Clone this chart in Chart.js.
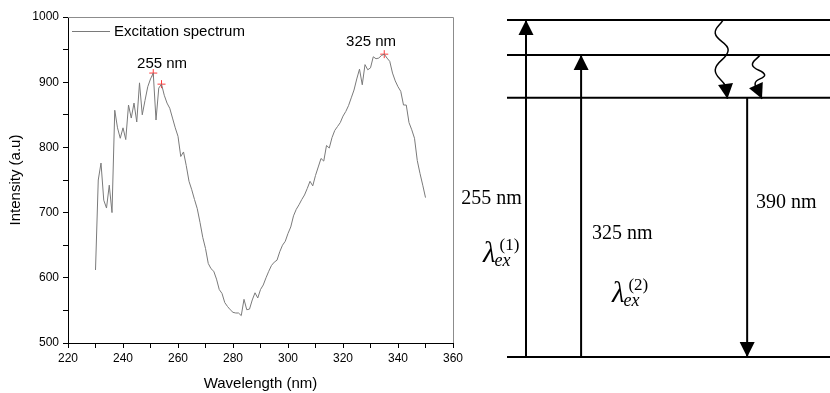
<!DOCTYPE html>
<html>
<head>
<meta charset="utf-8">
<script src="https://cdn.jsdelivr.net/npm/chart.js@4.4.1/dist/chart.umd.min.js"></script>
<style>
  body { margin: 0; background: #fff; }
  #wrap { position: relative; width: 830px; height: 393px; overflow: hidden; background: #fff; }
  #spectrumChart { position: absolute; left: 0; top: 0; }
  #levelChart { position: absolute; left: 450px; top: 0; }
</style>
</head>
<body>
<div id="wrap">
  <canvas id="spectrumChart" width="470" height="393"></canvas>
  <canvas id="levelChart" width="380" height="393"></canvas>
</div>
<script>
// excitation spectrum
const wavelength = [
  230, 231, 232, 233, 234, 235, 236, 237, 238, 239, 240, 241, 242, 243, 244, 245, 246, 247, 248, 249,
  250, 251, 252, 253, 254, 255, 256, 257, 258, 259, 260, 261, 262, 263, 264, 265, 266, 267, 268, 269,
  270, 271, 272, 273, 274, 275, 276, 277, 278, 279, 280, 281, 282, 283, 284, 285, 286, 287, 288, 289,
  290, 291, 292, 293, 294, 295, 296, 297, 298, 299, 300, 301, 302, 303, 304, 305, 306, 307, 308, 309,
  310, 311, 312, 313, 314, 315, 316, 317, 318, 319, 320, 321, 322, 323, 324, 325, 326, 327, 328, 329,
  330, 331, 332, 333, 334, 335, 336, 337, 338, 339, 340, 341, 342, 343, 344, 345, 346, 347, 348, 349,
  350
];
const intensity = [
  612, 750, 776, 719, 707, 742, 700, 857, 830, 814, 830, 812, 865, 845, 868, 839, 899, 850, 872, 893,
  905, 914, 842, 891, 897, 880, 868, 860, 845, 830, 817, 786, 793, 772, 748, 735, 720, 706, 685, 662,
  645, 622, 614, 610, 598, 582, 576, 562, 556, 551, 547, 546, 546, 542, 567, 551, 552, 566, 577, 569,
  582, 589, 600, 610, 619, 624, 627, 640, 650, 656, 668, 678, 695, 705, 712, 720, 727, 737, 748, 741,
  757, 770, 783, 779, 803, 799, 815, 826, 832, 838, 848, 855, 864, 876, 888, 905, 920, 896, 927, 919,
  922, 939, 936, 937, 941, 943, 937, 932, 914, 902, 893, 886, 865, 865, 838, 827, 814, 780, 760, 742,
  723
];

// peaks marked with red crosses
const peakX = [251, 254, 335];
const peakY = [914, 897, 943];
const peakText = ["255 nm", "325 nm"];
const peakTextX = [254.2, 330.2];
const peakTextY = [928, 962];

// energy level sketch, arbitrary units
const levels = [0, 7.69, 8.96, 10];
const levelStart = 15;
const levelEnd = 100;
const upArrowX = [20, 34.5];
const upArrowTop = [10, 8.96];
const downArrowX = 78.2;
const downArrowTop = 7.69;
const wavy1X = [71.9, 69.8, 73.2, 69.8, 72.6, 73.0];
const wavy1Y = [10, 9.60, 9.11, 8.52, 8.02, 7.66];
const wavy2X = [81.6, 79.6, 82.8, 80.3, 82.1];
const wavy2Y = [8.96, 8.66, 8.37, 8.12, 7.66];

const lineText = ["255 nm", "325 nm", "390 nm"];
const lineTextX = [18.9, 37.4, 80.5];
const lineTextY = [4.54, 3.50, 4.42];
const lineTextAlign = ["right", "left", "left"];
const lambdaSup = ["(1)", "(2)"];
const lambdaX = [8.7, 42.6];
const lambdaY = [2.82, 1.63];

const sans = "'Liberation Sans', Arial, sans-serif";
const serif = "'Liberation Serif', 'Times New Roman', serif";

// grey box on top and right of the plot
const frameLines = {
  id: "frameLines",
  afterDraw(chart) {
    const a = chart.chartArea;
    const c = chart.ctx;
    c.save();
    c.strokeStyle = "#8c8c8c";
    c.lineWidth = 1;
    c.beginPath();
    c.moveTo(a.left, a.top + 0.5);
    c.lineTo(a.right + 0.5, a.top + 0.5);
    c.lineTo(a.right + 0.5, a.bottom);
    c.stroke();
    c.restore();
  }
};

// legend sits inside the plot, top left
const insideLegend = {
  id: "insideLegend",
  afterDatasetsDraw(chart) {
    const a = chart.chartArea;
    const c = chart.ctx;
    const ds = chart.data.datasets[0];
    const ly = a.top + 14.5;
    c.save();
    c.strokeStyle = ds.borderColor;
    c.lineWidth = 1;
    c.beginPath();
    c.moveTo(a.left + 4, ly);
    c.lineTo(a.left + 42, ly);
    c.stroke();
    c.fillStyle = "#000";
    c.font = "15px " + sans;
    c.textBaseline = "middle";
    c.fillText(ds.label, a.left + 46, ly);
    c.restore();
  }
};

const peakLabels = {
  id: "peakLabels",
  afterDatasetsDraw(chart) {
    const { ctx, scales: { x, y } } = chart;
    ctx.save();
    ctx.font = "15px " + sans;
    ctx.fillStyle = "#000";
    ctx.textAlign = "center";
    ctx.textBaseline = "middle";
    peakText.forEach((t, i) => {
      ctx.fillText(t, x.getPixelForValue(peakTextX[i]), y.getPixelForValue(peakTextY[i]));
    });
    ctx.restore();
  }
};

new Chart(document.getElementById("spectrumChart"), {
  type: "line",
  data: {
    datasets: [
      {
        label: "Excitation spectrum",
        data: wavelength.map((w, i) => ({ x: w, y: intensity[i] })),
        borderColor: "#7a7a7a",
        backgroundColor: "#7a7a7a",
        borderWidth: 1,
        pointRadius: 0,
        tension: 0,
        fill: false
      },
      {
        label: "peaks",
        data: peakX.map((w, i) => ({ x: w, y: peakY[i] })),
        showLine: false,
        pointStyle: "cross",
        pointRadius: 4,
        borderColor: "#ff3b3b",
        borderWidth: 1
      }
    ]
  },
  options: {
    responsive: false,
    animation: false,
    layout: { padding: { top: 17, right: 17, left: 0, bottom: 0 } },
    plugins: {
      legend: { display: false },
      tooltip: { enabled: false }
    },
    scales: {
      x: {
        type: "linear",
        min: 220,
        max: 360,
        afterFit: s => { s.height = 50; },
        ticks: {
          stepSize: 10,
          autoSkip: false,
          maxRotation: 0,
          color: "#000",
          font: { family: sans, size: 12 },
          padding: 3,
          callback: v => (v % 20 === 0 ? v : "")
        },
        grid: { drawOnChartArea: false, tickLength: 5, color: "#000" },
        border: { color: "#000", width: 1 },
        title: {
          display: true,
          text: "Wavelength (nm)",
          color: "#000",
          font: { family: sans, size: 15 },
          padding: { top: 0, bottom: 0 }
        }
      },
      y: {
        min: 500,
        max: 1000,
        afterFit: s => { s.width = 68; },
        ticks: {
          stepSize: 50,
          color: "#000",
          font: { family: sans, size: 12 },
          padding: 4,
          callback: v => (v % 100 === 0 ? v : "")
        },
        grid: { drawOnChartArea: false, tickLength: 5, color: "#000" },
        border: { color: "#000", width: 1 },
        title: {
          display: true,
          text: "Intensity (a.u)",
          color: "#000",
          font: { family: sans, size: 15 },
          padding: { top: 7, bottom: 0 }
        }
      }
    }
  },
  plugins: [frameLines, insideLegend, peakLabels]
});

// arrow heads on the last point of flagged datasets
const arrowHeads = {
  id: "arrowHeads",
  afterDatasetsDraw(chart) {
    const ctx = chart.ctx;
    chart.data.datasets.forEach((ds, i) => {
      if (!ds.arrow) return;
      const pts = chart.getDatasetMeta(i).data;
      const tip = pts[pts.length - 1];
      const prev = pts[pts.length - 2];
      const ang = Math.atan2(tip.y - prev.y, tip.x - prev.x);
      ctx.save();
      ctx.translate(tip.x, tip.y);
      ctx.rotate(ang);
      ctx.beginPath();
      ctx.moveTo(0, 0);
      ctx.lineTo(-15, -7.5);
      ctx.lineTo(-15, 7.5);
      ctx.closePath();
      ctx.fillStyle = "#000";
      ctx.fill();
      ctx.restore();
    });
  }
};

const levelText = {
  id: "levelText",
  afterDatasetsDraw(chart) {
    const { ctx, scales: { x, y } } = chart;
    ctx.save();
    ctx.fillStyle = "#000";
    ctx.textBaseline = "alphabetic";
    ctx.font = "20px " + serif;
    lineText.forEach((t, i) => {
      ctx.textAlign = lineTextAlign[i];
      ctx.fillText(t, x.getPixelForValue(lineTextX[i]), y.getPixelForValue(lineTextY[i]));
    });
    ctx.textAlign = "left";
    lambdaSup.forEach((s, i) => {
      const px = x.getPixelForValue(lambdaX[i]);
      const py = y.getPixelForValue(lambdaY[i]);
      ctx.font = "italic 29px " + serif;
      ctx.fillText("\u03bb", px, py);
      const w = ctx.measureText("\u03bb").width;
      ctx.font = "italic 18px " + serif;
      ctx.fillText("ex", px + w - 1, py + 4);
      ctx.font = "17px " + serif;
      ctx.fillText(s, px + w + 4, py - 12);
    });
    ctx.restore();
  }
};

const black = { borderColor: "#000", borderWidth: 2, pointRadius: 0, fill: false };
const levelSets = levels.map(l => ({
  ...black,
  data: [{ x: levelStart, y: l }, { x: levelEnd, y: l }]
}));
const upSets = upArrowX.map((ax, i) => ({
  ...black,
  arrow: true,
  data: [{ x: ax, y: levels[0] }, { x: ax, y: upArrowTop[i] }]
}));
const downSet = {
  ...black,
  arrow: true,
  data: [{ x: downArrowX, y: downArrowTop }, { x: downArrowX, y: levels[0] }]
};
const wavySets = [[wavy1X, wavy1Y], [wavy2X, wavy2Y]].map(([xs, ys]) => ({
  ...black,
  borderWidth: 1.5,
  tension: 0.45,
  arrow: true,
  data: xs.map((v, i) => ({ x: v, y: ys[i] }))
}));

new Chart(document.getElementById("levelChart"), {
  type: "line",
  data: { datasets: [...levelSets, ...upSets, downSet, ...wavySets] },
  options: {
    responsive: false,
    animation: false,
    layout: { padding: 0 },
    plugins: { legend: { display: false }, tooltip: { enabled: false } },
    scales: {
      x: { type: "linear", min: 0, max: 100, display: false },
      y: { type: "linear", min: -1.068, max: 10.593, display: false }
    }
  },
  plugins: [arrowHeads, levelText]
});
</script>
</body>
</html>
